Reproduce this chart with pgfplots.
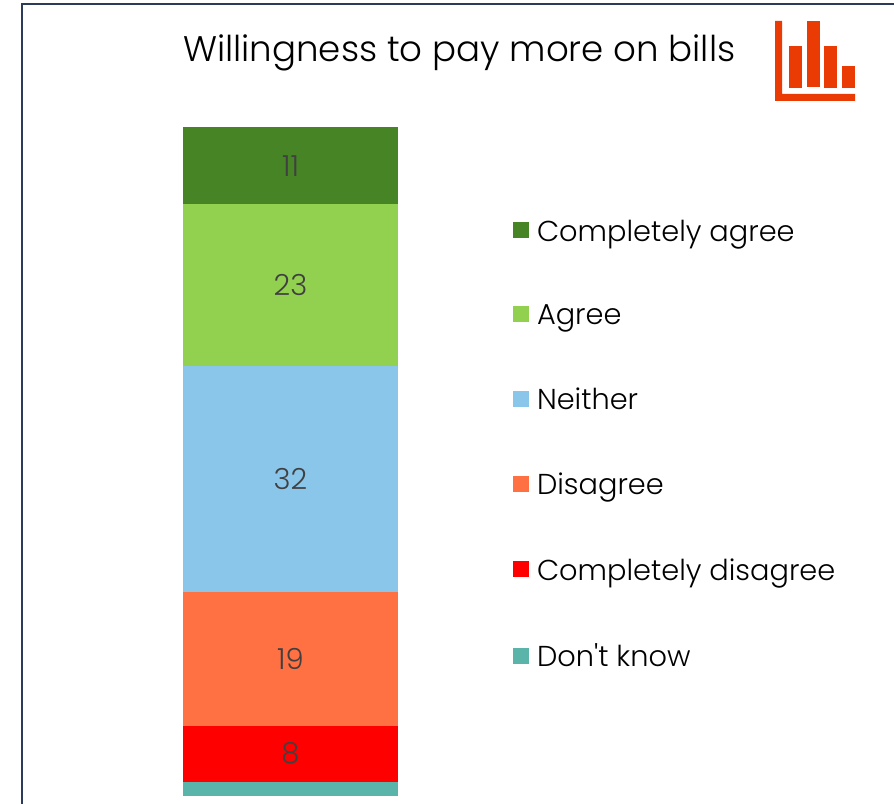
\documentclass[border=0pt]{standalone}
\usepackage{pgfplots}
\pgfplotsset{compat=1.18}
\usepackage{fontspec}
\setmainfont{Poppins Light}
\definecolor{frameblue}{HTML}{2C3A5C}
\definecolor{iconred}{HTML}{EB3B04}
\definecolor{labelgrey}{HTML}{404040}
\definecolor{cagree}{HTML}{478426}
\definecolor{agree}{HTML}{92D050}
\definecolor{neither}{HTML}{8AC5EA}
\definecolor{disagree}{HTML}{FF7043}
\definecolor{cdisagree}{HTML}{FF0000}
\definecolor{dontknow}{HTML}{5AB4AA}
\pgfplotsset{
  swatch/.style={legend image code/.code={\fill[##1,draw=none] (0pt,3pt) rectangle (16pt,19pt);\path (24pt,0pt);}},
  segment/.style={fill=#1,draw=none,swatch,
    nodes near coords={\pgfmathprintnumber[assume math mode=true]{\pgfplotspointmeta}},
    nodes near coords style={anchor=center,text=labelgrey,font=\fontsize{29}{29}\selectfont}},
}
\begin{document}
\begin{tikzpicture}[x=1pt,y=1pt]
  % canvas and frame
  \path[use as bounding box] (0,0) rectangle (894,803);
  \begin{scope}
    \clip (0,0) rectangle (894,803);
    \draw[frameblue,line width=2.2pt] (22,-5) -- (22,799) -- (900,799);
  \end{scope}
  \node[anchor=base west,inner sep=0pt,font=\fontsize{35.6}{36}\selectfont] at (183,741) {Willingness to pay more on bills};
  % bar chart icon
  \fill[iconred] (775,782) -- (782,782) -- (782,709) -- (855,709) -- (855,702) -- (775,702) -- cycle;
  \fill[iconred] (789,715) rectangle (802,757);
  \fill[iconred] (807,716) rectangle (820,782);
  \fill[iconred] (824,715) rectangle (837,757);
  \fill[iconred] (842,715) rectangle (855,737);
  \begin{axis}[
    at={(183pt,7pt)},anchor=south west,
    scale only axis,width=215pt,height=669pt,
    ybar stacked,bar width=215pt,
    xmin=-0.5,xmax=0.5,ymin=0,ymax=95,
    axis lines=none,clip=false,
    reverse legend,
    legend style={
      at={(1.535,0.861)},anchor=north west,
      draw=none,fill=none,inner sep=0pt,outer sep=0pt,
      font=\fontsize{28.8}{29}\selectfont,
      row sep=62pt,
      nodes={inner sep=0pt,anchor=base west},
    },
    legend cell align=left,
  ]
    \addplot[fill=dontknow,draw=none,swatch] coordinates {(0,2)};
    \addplot[segment=cdisagree] coordinates {(0,8)};
    \addplot[segment=disagree] coordinates {(0,19)};
    \addplot[segment=neither] coordinates {(0,32)};
    \addplot[segment=agree] coordinates {(0,23)};
    \addplot[segment=cagree] coordinates {(0,11)};
    \legend{Don\textquotesingle t know,Completely disagree,Disagree,Neither,Agree,Completely agree}
  \end{axis}
\end{tikzpicture}
\end{document}
